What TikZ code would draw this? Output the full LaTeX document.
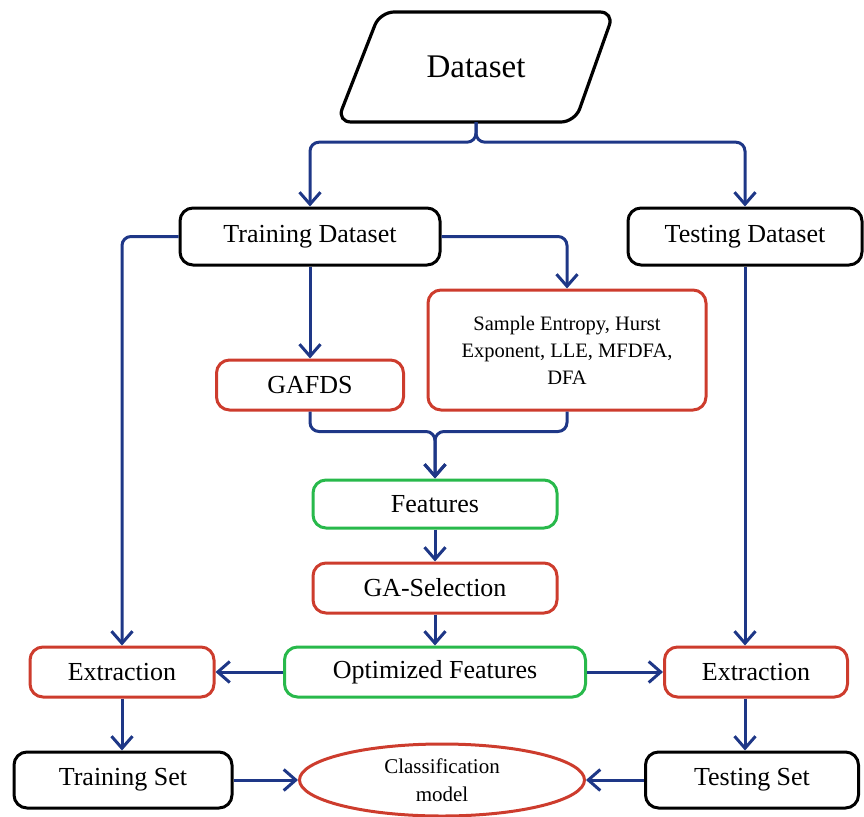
\documentclass[tikz,border=0pt]{standalone}
\usepackage{fontspec}
\setmainfont{Liberation Serif}
\usetikzlibrary{arrows.meta,shapes.geometric}
\definecolor{cblue}{RGB}{30,55,135}
\definecolor{cred}{RGB}{205,60,45}
\definecolor{cgreen}{RGB}{40,185,75}
\tikzset{
  box/.style={draw, line width=3pt, rounded corners=13pt, align=center, inner sep=0pt, font=\fontsize{26}{30}\selectfont},
  blackbox/.style={box, draw=black},
  redbox/.style={box, draw=cred},
  greenbox/.style={box, draw=cgreen},
  conn/.style={draw=cblue, line width=3pt, rounded corners=9pt, -{Straight Barb[length=12pt,width=21pt,line width=3pt]}},
}
\begin{document}
\begin{tikzpicture}[x=1pt,y=-1pt]
\useasboundingbox (0,0) rectangle (864,816);
% Dataset parallelogram
\draw[line width=3.2pt, rounded corners=14pt] (497,12) -- (614,12) -- (575,122) -- (337,122) -- (380,12) -- cycle;
\node[minimum width=200pt, minimum height=110pt, inner sep=0pt, font=\fontsize{33}{38}\selectfont] (data) at (476,67) {Dataset};

\node[blackbox, minimum width=260pt, minimum height=57pt] (train) at (310,236.5) {Training Dataset};
\node[blackbox, minimum width=234pt, minimum height=57pt] (test) at (745,236.5) {Testing Dataset};
\node[redbox, minimum width=278pt, minimum height=120pt, font=\fontsize{20.5}{27}\selectfont] (samp) at (567,350) {Sample Entropy, Hurst\\Exponent, LLE, MFDFA,\\DFA};
\node[redbox, minimum width=187pt, minimum height=50pt] (gafds) at (310,385) {GAFDS};
\node[greenbox, minimum width=244pt, minimum height=48pt] (feat) at (435,504) {Features};
\node[redbox, minimum width=244pt, minimum height=50pt] (gasel) at (435,588) {GA-Selection};
\node[greenbox, minimum width=301pt, minimum height=50pt] (opt) at (435,672) {Optimized Features};
\node[redbox, minimum width=184pt, minimum height=50pt] (ext1) at (122,672) {Extraction};
\node[redbox, minimum width=183pt, minimum height=50pt] (ext2) at (756,672) {Extraction};
\node[blackbox, minimum width=218pt, minimum height=56pt] (trset) at (123,780) {Training Set};
\node[blackbox, minimum width=213pt, minimum height=56pt] (teset) at (752,780) {Testing Set};
\node[ellipse, draw=cred, line width=3pt, minimum width=285pt, minimum height=72pt, inner sep=0pt, align=center, font=\fontsize{21}{28}\selectfont] (cls) at (442,780) {Classification\\model};

% connectors
\draw[conn] (data.south) -- ++(0,20) -| (train.north);
\draw[conn] (data.south) -- ++(0,20) -| (test.north);
\draw[conn] (train.south) -- (gafds.north);
\draw[conn] (train.east) -| (samp.north);
\draw[conn] (gafds.south) -- ++(0,20) -| (feat.north);
\draw[conn] (samp.south) -- ++(0,20) -| (feat.north);
\draw[conn] (feat.south) -- (gasel.north);
\draw[conn] (gasel.south) -- (opt.north);
\draw[conn] (train.west) -| (ext1.north);
\draw[conn] (test.south) -- (test.south |- ext2.north);
\draw[conn] (opt.west) -- (ext1.east);
\draw[conn] (opt.east) -- (ext2.east -| ext2.west);
\draw[conn] (ext1.south) -- (ext1.south |- trset.north);
\draw[conn] (test.south |- ext2.south) -- (test.south |- teset.north);
\draw[conn] (trset.east) -- (cls.west);
\draw[conn] (teset.west) -- (cls.east);
\end{tikzpicture}
\end{document}
